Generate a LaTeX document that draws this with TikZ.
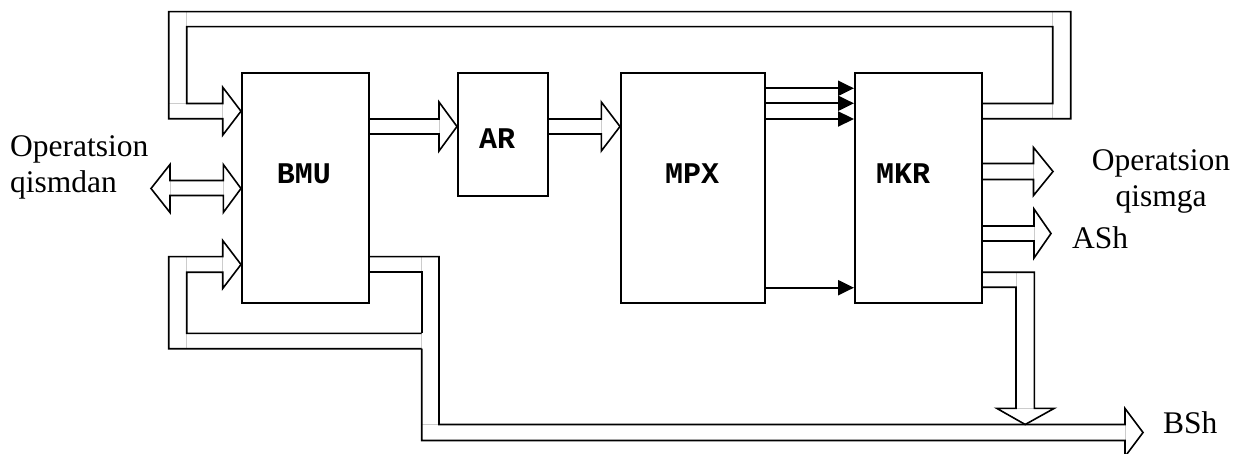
\documentclass[tikz,border=0pt]{standalone}
\usepackage{fontspec}
\setmainfont{Liberation Serif}
\newfontfamily\monob{Liberation Mono}
\usetikzlibrary{arrows.meta,calc}
\newcommand\busright[6]{% x0 base tip yc halfbus halfhead
  \draw[joint] (#2,#4-#5) -- (#2,#4+#5);
  \draw[bus] (#1,#4-#5) -- (#2,#4-#5) -- (#2,#4-#6) -- (#3,#4) -- (#2,#4+#6) -- (#2,#4+#5) -- (#1,#4+#5);}
\begin{document}
\begin{tikzpicture}[x=1pt,y=-1pt,
  box/.style={draw, line width=1.6pt, inner sep=0pt, anchor=north west},
  bus/.style={draw, line width=1.6pt, line join=miter},
  joint/.style={draw=black!20, line width=1pt},
  sig/.style={line width=2.2pt, -{Triangle[length=16pt,width=15pt]}},
  blbl/.style={font=\monob\bfseries\fontsize{30}{30}\selectfont, inner sep=0pt},
  tlbl/.style={font=\fontsize{31.5}{36}\selectfont, inner sep=0pt},
]
\useasboundingbox (0,0) rectangle (1234,454);

% blocks
\node[box, minimum width=127pt, minimum height=230pt] (BMU) at (241,72) {};
\node[box, minimum width=90pt,  minimum height=123pt] (AR)  at (457,72) {};
\node[box, minimum width=144pt, minimum height=230pt] (MPX) at (620,72) {};
\node[box, minimum width=127pt, minimum height=230pt] (MKR) at (854,72) {};
\node[blbl] (BMUt) at (304,174) {BMU};
\node[blbl] (ARt)  at (497,139) {AR};
\node[blbl] (MPXt) at (692,174) {MPX};
\node[blbl] (MKRt) at (903,174) {MKR};

% text labels
\node[tlbl, align=left, anchor=north west] (opin) at (10,135) {Operatsion\\qismdan};
\node[tlbl, align=center, anchor=north] (opout) at (1161,149) {Operatsion\\qismga};
\node[tlbl, anchor=base west] (ash) at (1072,249) {ASh};
\node[tlbl, anchor=base west] (bsh) at (1163,433.5) {BSh};

% simple bus arrows
\busright{368}{439}{457}{126.5}{7.5}{24.5}
\busright{547}{601.3}{620}{126.5}{7.5}{24.5}
\busright{981}{1033.5}{1053}{171.5}{8}{24}
\busright{981}{1034}{1051}{233.5}{7.5}{24.5}

% bidirectional arrow (Operatsion qismdan <-> BMU)
\draw[joint] (170,180.5) -- (170,195.5) (223.3,180.5) -- (223.3,195.5);
\draw[bus] (170,180.5) -- (223.3,180.5) -- (223.3,164.5) -- (241,188.5) -- (223.3,212.5)
  -- (223.3,195.5) -- (170,195.5) -- (170,212.5) -- (151,188.5) -- (170,164.5) -- cycle;

% top feedback loop MKR -> BMU
\draw[joint] (186.7,11.7) -- (186.7,26.7) (168.7,103.5) -- (186.7,103.5)
  (222.7,103.5) -- (222.7,118.8) (1052.7,11.7) -- (1052.7,26.7) (1052.7,103.5) -- (1052.7,118.8);
\draw[bus] (981,103.5) -- (1052.7,103.5) -- (1052.7,26.7) -- (186.7,26.7) -- (186.7,103.5)
  -- (222.7,103.5) -- (222.7,87.2) -- (241,111.2) -- (222.7,135.2) -- (222.7,118.8)
  -- (168.7,118.8) -- (168.7,11.7) -- (1070.7,11.7) -- (1070.7,118.8) -- (981,118.8);

% BMU output -> loop back and BSh
\draw[joint] (186.7,256.7) -- (186.7,272.3) (186.7,333.3) -- (186.7,348.7)
  (421.7,256.7) -- (421.7,272.3) (421.7,333.3) -- (421.7,348.7)
  (421.7,424.5) -- (439,424.5) (222.7,256.7) -- (222.7,272.3) (1125,424.5) -- (1125,440.5);
\draw[bus] (368,256.7) -- (439,256.7) -- (439,424.5) -- (1125,424.5) -- (1125,408.5)
  -- (1143,432.5) -- (1125,456.5) -- (1125,440.5) -- (421.7,440.5) -- (421.7,348.7);
\draw[bus] (368,272.3) -- (421.7,272.3) -- (421.7,333.3);
\draw[bus] (421.7,333.3) -- (186.7,333.3) -- (186.7,272.3) -- (222.7,272.3) -- (222.7,288.5)
  -- (241,264.5) -- (222.7,240.5) -- (222.7,256.7) -- (168.7,256.7) -- (168.7,348.7) -- (421.7,348.7);

% MKR bottom output down into BSh bus
\draw[joint] (1016,272.3) -- (1016,287.3) (1016,408.3) -- (1034.3,408.3);
\draw[bus] (981,272.3) -- (1034.3,272.3) -- (1034.3,408.3) -- (1054.3,408.3) -- (1025.2,424.5)
  -- (996.7,408.3) -- (1016,408.3) -- (1016,287.3) -- (981,287.3);

% MPX -> MKR single lines
\draw[sig] ($(MPX.north east)+(0,16.3)$) -- ($(MKR.north west)+(0,16.3)$);
\draw[sig] ($(MPX.north east)+(0,31.3)$) -- ($(MKR.north west)+(0,31.3)$);
\draw[sig] ($(MPX.north east)+(0,47)$) -- ($(MKR.north west)+(0,47)$);
\draw[sig] ($(MPX.north east)+(0,215.7)$) -- ($(MKR.north west)+(0,215.7)$);
\end{tikzpicture}
\end{document}
